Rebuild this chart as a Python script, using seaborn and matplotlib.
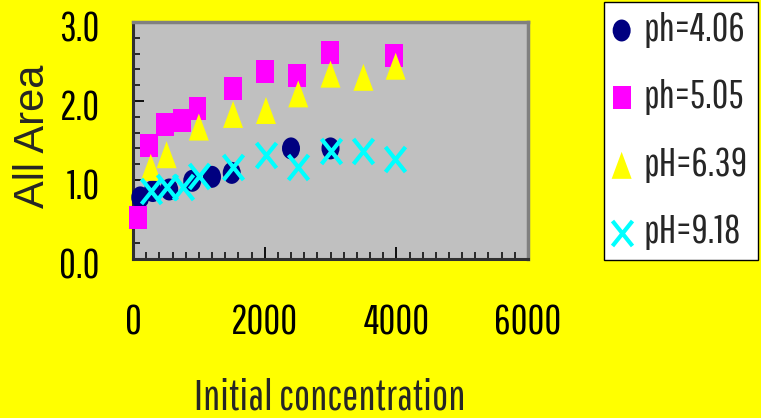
import matplotlib
matplotlib.use("Agg")
import matplotlib.pyplot as plt
import matplotlib.transforms as mtransforms
from matplotlib.markers import MarkerStyle
from matplotlib.ticker import MultipleLocator
import seaborn as sns
import pandas as pd

# Adsorbed area vs. initial concentration at four pH values
conc_ph406 = [110, 300, 550, 900, 1200, 1500, 2400, 3000]
area_ph406 = [0.78, 0.86, 0.88, 0.99, 1.04, 1.09, 1.40, 1.40]

conc_ph505 = [80, 250, 490, 750, 980, 1520, 2000, 2490, 2990, 3970]
area_ph505 = [0.53, 1.44, 1.70, 1.75, 1.91, 2.16, 2.37, 2.32, 2.62, 2.57]

conc_ph639 = [270, 510, 1000, 1520, 2020, 2510, 3000, 3500, 3990]
area_ph639 = [1.16, 1.32, 1.67, 1.83, 1.88, 2.09, 2.34, 2.30, 2.44]

conc_ph918 = [280, 510, 760, 1000, 1520, 2020, 2510, 3000, 3500, 3980]
area_ph918 = [0.86, 0.91, 0.91, 1.05, 1.17, 1.32, 1.16, 1.37, 1.37, 1.27]

series_labels = ["ph=4.06", "ph=5.05", "pH=6.39", "pH=9.18"]
x_ticks = [0, 2000, 4000, 6000]
y_ticks = [0.0, 1.0, 2.0, 3.0]
y_tick_labels = ["0.0", "1.0", "2.0", "3.0"]

sns.set_style("ticks")
plt.rcParams["font.family"] = ["Pathway Gothic One", "DejaVu Sans"]

fig = plt.figure(figsize=(7.61, 4.18), dpi=100, facecolor="#FFFF00")
ax = fig.add_axes([133 / 761, 1 - 259 / 418, 395 / 761, 237 / 418])
ax.set_facecolor("#C0C0C0")


def squeezed(shape, sx):
    return MarkerStyle(shape, transform=mtransforms.Affine2D().scale(sx, 1.0))


styles = [
    dict(marker=squeezed("o", 0.82), color="#000080", s=250),
    dict(marker=squeezed("s", 0.78), color="#FF00FF", s=275),
    dict(marker=squeezed("^", 0.74), color="#FFFF00", s=378),
    dict(marker=squeezed("x", 0.80), color="#00FFFF", s=324),
]
series = [
    (conc_ph406, area_ph406),
    (conc_ph505, area_ph505),
    (conc_ph639, area_ph639),
    (conc_ph918, area_ph918),
]

for (xs, ys), label, st in zip(series, series_labels, styles):
    df = pd.DataFrame({"conc": xs, "area": ys})
    filled = st["marker"].is_filled()
    sns.scatterplot(data=df, x="conc", y="area", ax=ax, label=label,
                    marker=st["marker"], color=st["color"], s=st["s"],
                    edgecolor="none" if filled else st["color"],
                    linewidth=0 if filled else 3.0,
                    zorder=3, clip_on=False)

ax.set_xlim(0, 6000)
ax.set_ylim(0, 3.0)
ax.set_xticks(x_ticks)
ax.set_xticklabels([str(v) for v in x_ticks])
ax.set_yticks(y_ticks)
ax.set_yticklabels(y_tick_labels)
ax.xaxis.set_minor_locator(MultipleLocator(200))
ax.yaxis.set_minor_locator(MultipleLocator(0.2))

ax.tick_params(axis="both", which="both", direction="in", colors="black",
               labelcolor="black", labelsize=29.5)
ax.tick_params(axis="x", which="major", length=9, width=1.3, pad=32)
ax.tick_params(axis="x", which="minor", length=5, width=1.1)
ax.tick_params(axis="y", which="major", length=8, width=1.3, pad=24)
ax.tick_params(axis="y", which="minor", length=5, width=1.1)

shift = mtransforms.ScaledTranslation(0, -4 / 100, fig.dpi_scale_trans)
for lab in ax.get_yticklabels():
    lab.set_transform(lab.get_transform() + shift)

for side in ("left", "bottom"):
    ax.spines[side].set_color("#303030")
    ax.spines[side].set_linewidth(2.2)
for side in ("top", "right"):
    ax.spines[side].set_color("#808080")
    ax.spines[side].set_linewidth(2.5)

ax.set_xlabel("Initial concentration", fontsize=31, va="baseline")
ax.xaxis.set_label_coords(0.4987, -0.637)
ax.set_ylabel("All Area", fontsize=30, va="baseline", family=["Liberation Sans", "DejaVu Sans"])
ax.yaxis.set_label_coords(-0.226, 0.519)

leg = ax.legend(loc="upper right", bbox_to_anchor=(758 / 761, 1 - 2 / 418),
                bbox_transform=fig.transFigure, borderaxespad=0, frameon=True,
                fancybox=False, fontsize=29, labelspacing=0.78, handlelength=0.4,
                handletextpad=0.35, borderpad=0.25)
frame = leg.get_frame()
frame.set_facecolor("white")
frame.set_edgecolor("black")
frame.set_linewidth(1.0)
frame.set_alpha(1.0)

fig.savefig("out.png", dpi=100, facecolor=fig.get_facecolor())
